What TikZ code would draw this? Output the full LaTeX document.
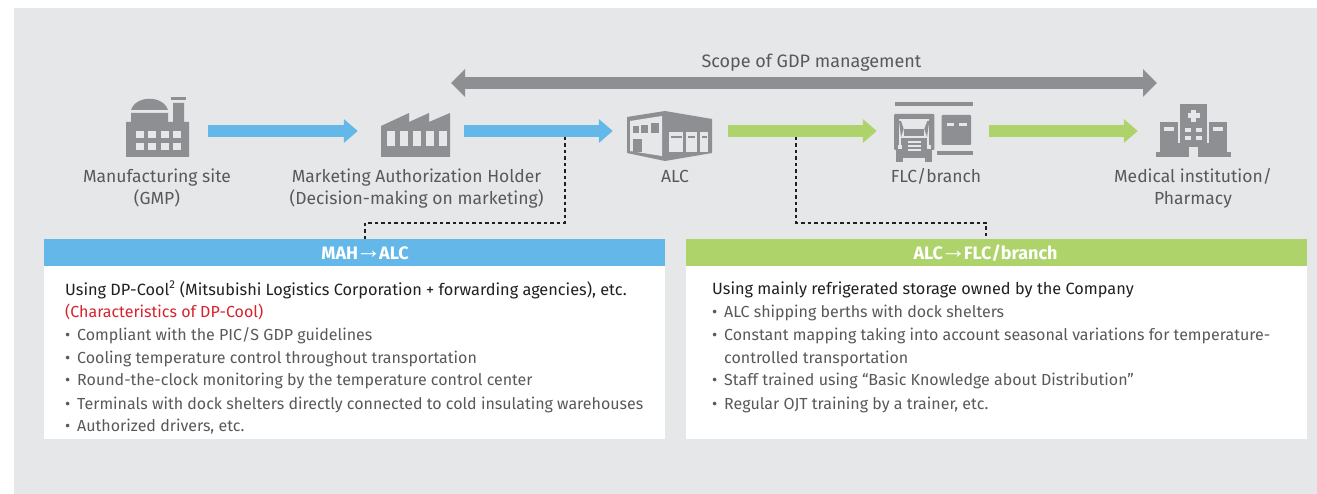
\documentclass[tikz,border=0pt]{standalone}
\usepackage{fontspec}
\setmainfont{Fira Sans}
\newfontfamily\arrowfont{Liberation Sans}
\usetikzlibrary{arrows.meta}
\definecolor{panelgray}{HTML}{E6E7E8}
\definecolor{icongray}{HTML}{8E8F92}
\definecolor{textgray}{HTML}{58595B}
\definecolor{darktext}{HTML}{231F20}
\definecolor{flowblue}{HTML}{63B8E9}
\definecolor{flowgreen}{HTML}{ADD36A}
\definecolor{notered}{HTML}{D7222C}
\newcommand{\headarrow}{\kern-2.5pt\raisebox{1.5pt}{\arrowfont\mdseries\fontsize{26}{26}\selectfont →}\kern-2.5pt}
\tikzset{
    icon/.style={minimum height=52pt,inner sep=0pt},
    label/.style={text=textgray,font=\fontsize{17.5}{17.5}\selectfont,anchor=base},
    item/.style={text=textgray,font=\fontsize{16}{16}\selectfont,anchor=base west,inner sep=0pt},
    lead/.style={item,text=darktext,font=\fontsize{16.3}{16.3}\selectfont},
    head/.style={inner sep=0pt,text=white,anchor=base,
        font=\fontsize{18}{18}\selectfont\bfseries},
    band/.style={minimum width=621pt,minimum height=27pt,inner sep=0pt},
    body/.style={fill=white,minimum width=621pt,minimum height=173pt,inner sep=0pt},
    flow/.style={line width=12.5pt,-{Triangle[length=14pt,width=23pt]}},
    link/.style={line width=1.2pt,darktext,dash pattern=on 3.5pt off 3pt}
}
\begin{document}
\begin{tikzpicture}[x=1pt,y=-1pt]
        \useasboundingbox (0,0) rectangle (1317,494);
        \fill[panelgray] (14,8) rectangle (1317,494);
        %icon places
        \node[icon,minimum width=63pt] (site) at (157.5,131) {};
        \node[icon,minimum width=69pt] (mah) at (415.5,131) {};
        \node[icon,minimum width=85pt] (alc) at (669.5,131) {};
        \node[icon,minimum width=80pt] (flc) at (934,131) {};
        \node[icon,minimum width=75pt] (hospital) at (1193.5,131) {};
        %manufacturing site
        \fill[icongray] (126,157) -- (126,122) -- (131,122) -- (131,113) -- (168,113)
            -- (168,122) -- (173,122) -- (173,103) -- (184,103) -- (184,122)
            -- (189,122) -- (189,157) -- cycle;
        \fill[icongray] (171,97) rectangle (186,100);
        \fill[icongray] (131,110) .. controls (136,95) and (163,95) .. (168,110) -- cycle;
        \foreach \x in {136,148,161,173}
            \foreach \y in {131,143}
                \fill[panelgray] (\x,\y) rectangle ++(7.6,7.3);
        %marketing authorization holder
        \fill[icongray] (381,157) -- (381,126) -- (409,113) -- (409,122) -- (429,113)
            -- (429,122) -- (450,113) -- (450,157) -- cycle;
        \foreach \x in {386.5,399.6,412.7,425.8,438.5}
            \fill[panelgray] (\x,131.5) rectangle ++(8.6,14.5);
        %ALC
        \fill[icongray] (627,117) -- (665,111) -- (712,119) -- (712,153) -- (665,161)
            -- (627,153) -- cycle;
        \fill[panelgray] (630,121) -- (662,116) -- (662,156) -- (630,151) -- cycle;
        \fill[icongray] (633.3,125.7) rectangle (639,133);
        \fill[icongray] (641.3,124.7) rectangle (648,133);
        \fill[icongray] (650.7,122.7) rectangle (658.7,133);
        \fill[icongray] (633.3,139) rectangle (641.7,151.7);
        \foreach \x/\w in {669.3/14,686/10.7,700/8.3} {
            \fill[panelgray] (\x,132.5) rectangle ++(\w,19.5);
            \fill[icongray] (\x+1.5,136) rectangle ++(\w-3,2.5);
        }
        %FLC
        \fill[icongray] (895,101.7) rectangle (973.3,106);
        \fill[icongray] (937,151) rectangle (973.3,155);
        \fill[icongray,rounded corners=1pt] (941.7,115) rectangle (971,145);
        \fill[panelgray] (946.5,123.5) rectangle (954,126.5);
        \fill[panelgray] (959,123.5) rectangle (966.5,126.5);
        \fill[icongray,rounded corners=1pt] (894,114) rectangle (934.3,150);
        \fill[panelgray] (899,119) rectangle (929.3,152);
        \fill[icongray] (903.7,129) rectangle (924.3,135.7);
        \fill[icongray] (899,121) -- (901,121) -- (903.7,129) -- (901,137) -- cycle;
        \fill[icongray] (929.3,121) -- (927.3,121) -- (924.3,129) -- (927,137) -- cycle;
        \fill[icongray] (901,137.7) rectangle (927,155);
        \fill[icongray] (896.3,145) rectangle (932.3,158);
        \fill[icongray] (896.3,158) rectangle (903.3,161.7);
        \fill[icongray] (925.3,158) rectangle (932.3,161.7);
        \foreach \y in {141.5,145.5,149.5}
            \fill[panelgray] (907.7,\y) rectangle (921,\y+1.6);
        \fill[panelgray] (898,145.5) rectangle (902,149.5);
        \fill[panelgray] (926.5,145.5) rectangle (930.5,149.5);
        %hospital
        \fill[icongray] (1180,104.3) rectangle (1207.3,156.7);
        \fill[icongray] (1160.3,121.7) rectangle (1178.3,156.7);
        \fill[icongray] (1209,121.7) rectangle (1226.7,156.7);
        \fill[icongray] (1160.3,143.5) rectangle (1226.7,156.7);
        \fill[icongray] (1156,152.3) rectangle (1231,156.7);
        \fill[panelgray] (1188.7,146.7) rectangle (1198.3,156.7);
        \fill[panelgray] (1187.7,113.3) rectangle (1199.7,118);
        \fill[panelgray] (1191,110) rectangle (1196.3,122);
        \foreach \x in {1185,1196.3}
            \foreach \y in {128,136}
                \fill[panelgray] (\x,\y) rectangle ++(5.7,4.2);
        \foreach \x in {1164,1213}
            \fill[panelgray] (\x,126.7) rectangle ++(10.3,4.3);
        %labels
        \node[label] (sitename) at (157,183) {Manufacturing site};
        \node[label] (sitenote) at (157,205) {(GMP)};
        \node[label] (mahname) at (416.5,183) {Marketing Authorization Holder};
        \node[label] (mahnote) at (416.5,205) {(Decision-making on marketing)};
        \node[label] (alcname) at (675,183) {ALC};
        \node[label] (flcname) at (936,183) {FLC/branch};
        \node[label] (hospitalname) at (1193,183) {Medical institution/};
        \node[label] (hospitalnote) at (1193,205) {Pharmacy};
        %scope arrow
        \coordinate (scopeleft) at (451,83);
        \coordinate (scoperight) at (1157,83);
        \node[label,font=\fontsize{18}{18}\selectfont] (scopename) at (811.5,68) {Scope of GDP management};
        \draw[icongray,line width=12.5pt,{Triangle[length=14pt,width=27pt]}-{Triangle[length=14pt,width=27pt]}]
            (scopeleft) -- (scoperight);
        %flow arrows
        \draw[flow,flowblue,shorten <=19pt,shorten >=23pt] (site) -- (mah);
        \draw[flow,flowblue,shorten <=14pt,shorten >=14pt] (mah) -- (alc);
        \draw[flow,flowgreen,shorten <=16pt,shorten >=17pt] (alc) -- (flc);
        \draw[flow,flowgreen,shorten <=15pt,shorten >=18pt] (flc) -- (hospital);
        %boxes
        \node[body] (mahbody) at (354.5,352.5) {};
        \node[body] (flcbody) at (996.5,352.5) {};
        \node[band,fill=flowblue] (mahband) at (354.5,252.5) {};
        \node[band,fill=flowgreen] (flcband) at (996.5,252.5) {};
        \node[head] (mahhead) at (365,260) {MAH\headarrow ALC};
        \node[head] (flchead) at (985.5,260) {ALC\headarrow FLC/branch};
        %dashed links
        \coordinate (mahstart) at (565,137);
        \coordinate (mahend) at (365,239);
        \coordinate (flcstart) at (796,137);
        \coordinate (flcend) at (986,239);
        \draw[link] (mahstart) -- (565,223) -| (mahend);
        \draw[link] (flcstart) -- (796,223) -| (flcend);
        %left list
        \node[lead] (mahlead) at (65,295) {Using DP-Cool\textsuperscript{2} (Mitsubishi Logistics Corporation + forwarding agencies), etc.};
        \node[item,text=notered] (mahsub) at (65,317) {(Characteristics of DP-Cool)};
        \foreach \i/\y/\t in {1/340/{Compliant with the PIC/S GDP guidelines},
                2/363/{Cooling temperature control throughout transportation},
                3/385/{Round-the-clock monitoring by the temperature control center},
                4/409/{Terminals with dock shelters directly connected to cold insulating warehouses},
                5/431/{Authorized drivers, etc.}}
            \node[item] (mahitem\i) at (65,\y) {\makebox[12pt][l]{•}\t};
        %right list
        \node[lead] (flclead) at (712,294.5) {Using mainly refrigerated storage owned by the Company};
        \foreach \i/\y/\t in {1/317/{ALC shipping berths with dock shelters},
                2/340/{Constant mapping taking into account seasonal variations for temperature-},
                4/385/{Staff trained using “Basic Knowledge about Distribution”},
                5/409/{Regular OJT training by a trainer, etc.}}
            \node[item] (flcitem\i) at (712,\y) {\makebox[12pt][l]{•}\t};
        \node[item] (flcitem3) at (724,363) {controlled transportation};
\end{tikzpicture}
\end{document}
